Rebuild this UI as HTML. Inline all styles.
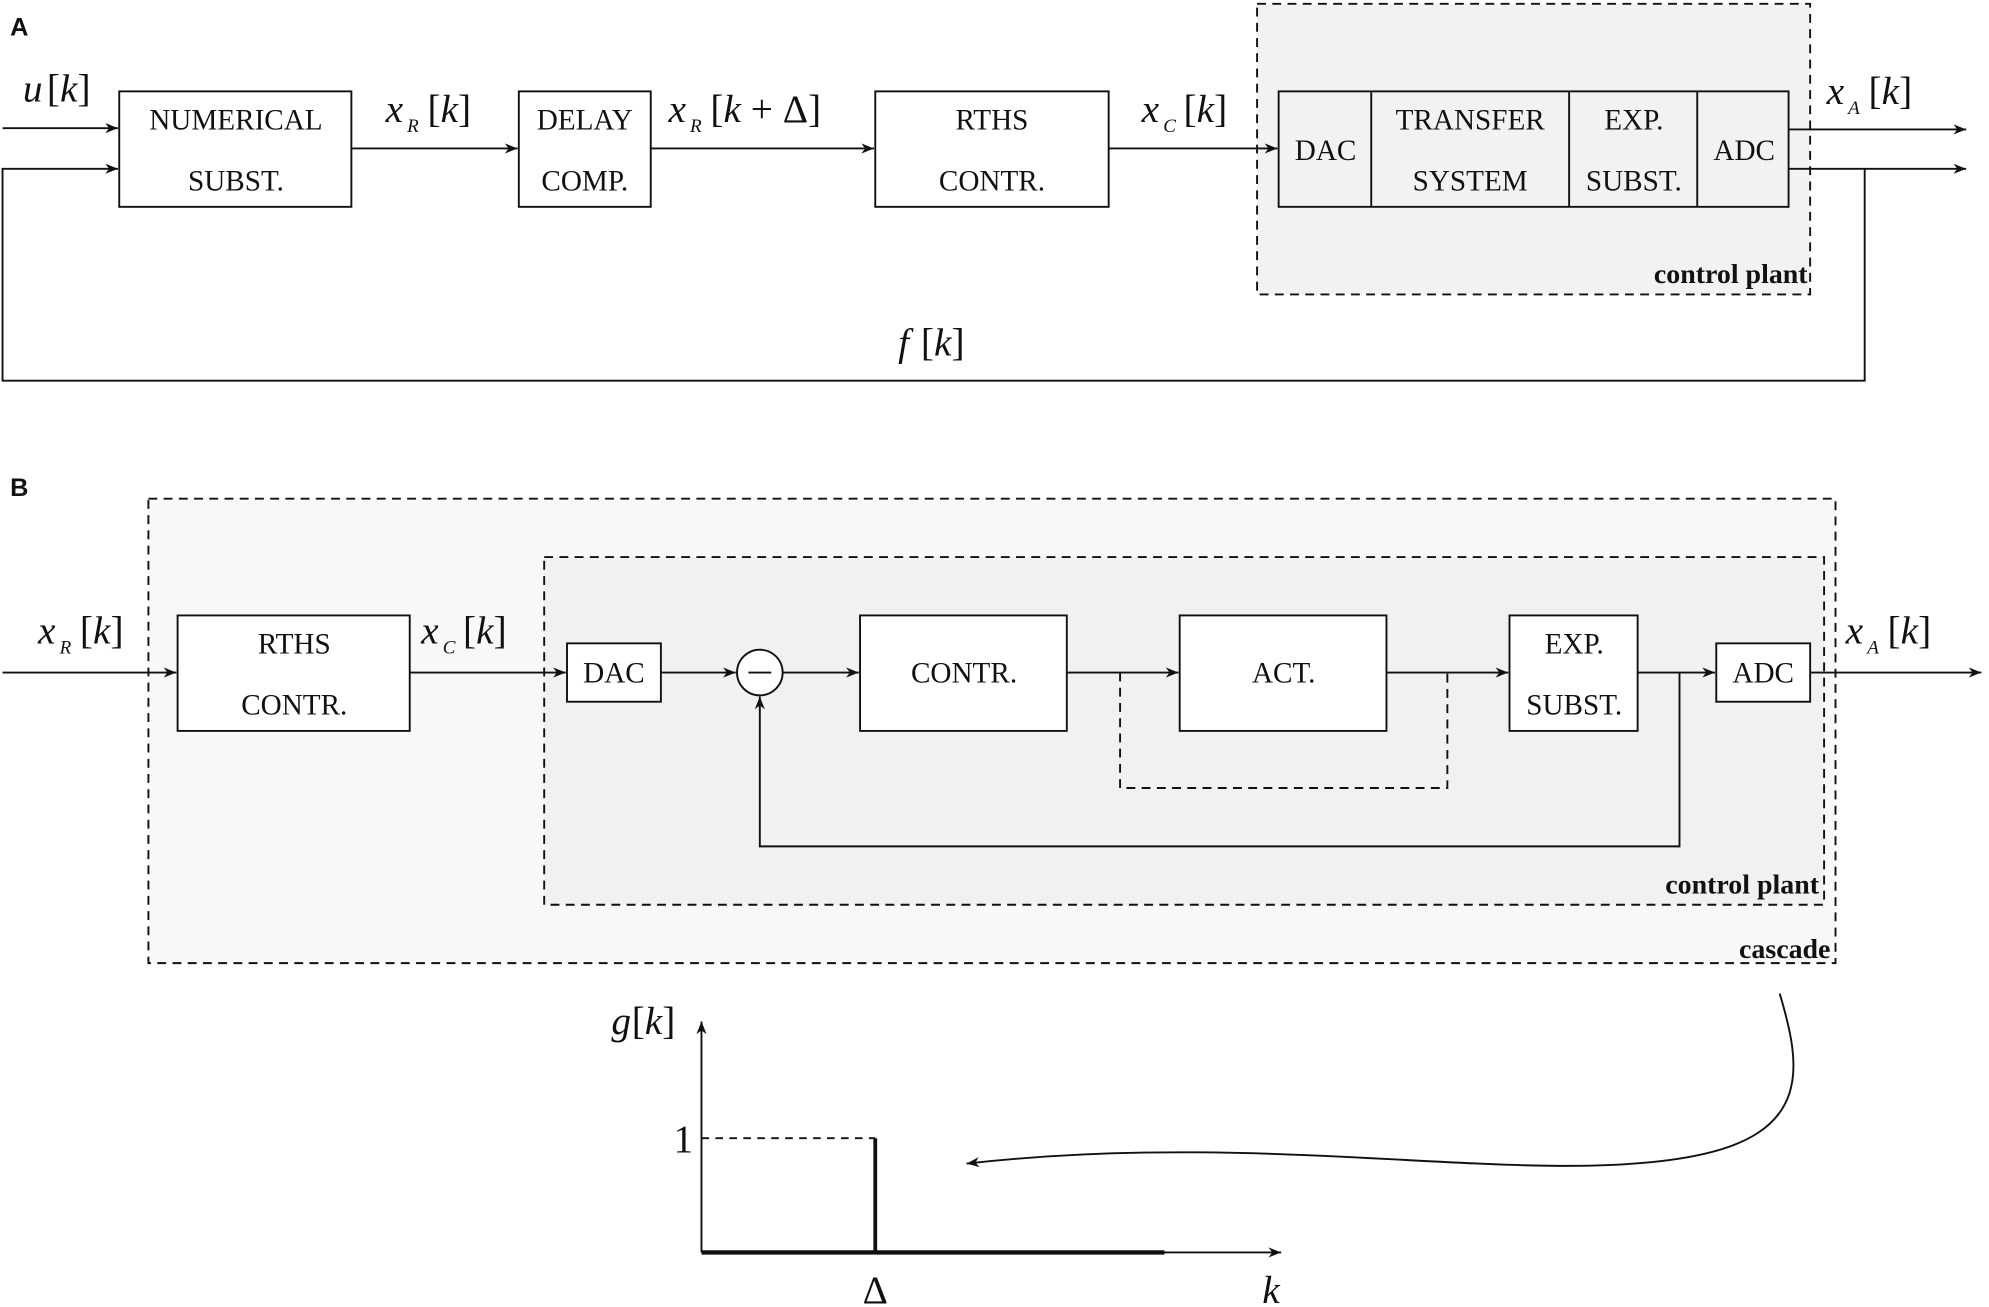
<!DOCTYPE html>
<html><head><meta charset="utf-8"><style>
html,body{margin:0;padding:0;background:#fff;}
svg{display:block;}
.b{font-family:"Liberation Serif",serif;font-size:23px;fill:#111;}
.m{font-family:"Liberation Serif",serif;font-style:italic;font-size:31px;fill:#111;}
.r{font-family:"Liberation Serif",serif;font-size:31px;fill:#111;}
.s{font-family:"Liberation Serif",serif;font-style:italic;font-size:15px;fill:#111;}
.lbl{font-family:"Liberation Serif",serif;font-weight:bold;font-size:22px;fill:#111;}
.pl{font-family:"Liberation Sans",sans-serif;font-weight:bold;font-size:20px;fill:#111;}
</style></head><body>
<svg width="1989" height="1307" viewBox="0 0 1568 1030" preserveAspectRatio="none" xmlns="http://www.w3.org/2000/svg">
<defs>
<marker id="a" markerWidth="10" markerHeight="8" refX="10" refY="4" orient="auto" markerUnits="userSpaceOnUse"><path d="M0,0 L10,4 L0,8 L3,4 Z" fill="#111"/></marker>
</defs>
<g stroke="#111" stroke-width="1.5" fill="none">
<!-- Panel A -->
<rect x="991" y="3" width="436" height="229" fill="#f2f2f2" stroke-dasharray="7,5"/>
<line x1="2" y1="101" x2="93" y2="101" marker-end="url(#a)"/>
<polyline points="1470,133 1470,300 2,300 2,133 93,133" marker-end="url(#a)"/>
<rect x="94" y="72" width="183" height="91" fill="#fff"/>
<line x1="277" y1="117" x2="408" y2="117" marker-end="url(#a)"/>
<rect x="409" y="72" width="104" height="91" fill="#fff"/>
<line x1="513" y1="117" x2="689" y2="117" marker-end="url(#a)"/>
<rect x="690" y="72" width="184" height="91" fill="#fff"/>
<line x1="874" y1="117" x2="1007" y2="117" marker-end="url(#a)"/>
<rect x="1008" y="72" width="402" height="91" fill="#f2f2f2"/>
<line x1="1081" y1="72" x2="1081" y2="163"/>
<line x1="1237" y1="72" x2="1237" y2="163"/>
<line x1="1338" y1="72" x2="1338" y2="163"/>
<line x1="1410" y1="102" x2="1550" y2="102" marker-end="url(#a)"/>
<line x1="1410" y1="133" x2="1550" y2="133" marker-end="url(#a)"/>
<!-- Panel B -->
<rect x="117" y="393" width="1330" height="366" fill="#f8f8f8" stroke-dasharray="7,5"/>
<rect x="429" y="439" width="1009" height="274" fill="#f1f1f1" stroke-dasharray="7,5"/>
<line x1="2" y1="530" x2="139" y2="530" marker-end="url(#a)"/>
<rect x="140" y="485" width="183" height="91" fill="#fff"/>
<line x1="323" y1="530" x2="446" y2="530" marker-end="url(#a)"/>
<rect x="447" y="507" width="74" height="46" fill="#fff"/>
<line x1="521" y1="530" x2="580" y2="530" marker-end="url(#a)"/>
<circle cx="599" cy="530" r="18" fill="#fff"/>
<line x1="590" y1="530" x2="608" y2="530"/>
<line x1="617" y1="530" x2="677" y2="530" marker-end="url(#a)"/>
<rect x="678" y="485" width="163" height="91" fill="#fff"/>
<line x1="841" y1="530" x2="929" y2="530" marker-end="url(#a)"/>
<rect x="930" y="485" width="163" height="91" fill="#fff"/>
<line x1="1093" y1="530" x2="1189" y2="530" marker-end="url(#a)"/>
<rect x="1190" y="485" width="101" height="91" fill="#fff"/>
<line x1="1291" y1="530" x2="1352" y2="530" marker-end="url(#a)"/>
<rect x="1353" y="507" width="74" height="46" fill="#fff"/>
<line x1="1427" y1="530" x2="1562" y2="530" marker-end="url(#a)"/>
<polyline points="883,530 883,621 1141,621 1141,530" stroke-dasharray="7,5"/>
<polyline points="1324,530 1324,667 599,667 599,549" marker-end="url(#a)"/>
<!-- plot -->
<line x1="553" y1="987" x2="553" y2="805" marker-end="url(#a)"/>
<line x1="553" y1="987" x2="1010" y2="987" marker-end="url(#a)"/>
<line x1="553" y1="987" x2="918" y2="987" stroke-width="3.5"/>
<line x1="690" y1="897" x2="690" y2="987" stroke-width="3"/>
<line x1="553" y1="897" x2="690" y2="897" stroke-dasharray="6,5"/>
<path d="M1403,783 C1420,840 1430,895 1330,912 C1200,935 1000,890 762,917" marker-end="url(#a)"/>
</g>
<!-- text -->
<text x="8" y="28" class="pl">A</text>
<text x="8" y="391" class="pl">B</text>
<g class="b" text-anchor="middle">
<text x="186" y="102">NUMERICAL</text><text x="186" y="150">SUBST.</text>
<text x="461" y="102">DELAY</text><text x="461" y="150">COMP.</text>
<text x="782" y="102">RTHS</text><text x="782" y="150">CONTR.</text>
<text x="1045" y="126">DAC</text>
<text x="1159" y="102">TRANSFER</text><text x="1159" y="150">SYSTEM</text>
<text x="1288" y="102">EXP.</text><text x="1288" y="150">SUBST.</text>
<text x="1375" y="126">ADC</text>
<text x="232" y="515">RTHS</text><text x="232" y="563">CONTR.</text>
<text x="484" y="538">DAC</text>
<text x="760" y="538">CONTR.</text>
<text x="1012" y="538">ACT.</text>
<text x="1241" y="515">EXP.</text><text x="1241" y="563">SUBST.</text>
<text x="1390" y="538">ADC</text>
</g>
<text x="1425" y="223" class="lbl" text-anchor="end">control plant</text>
<text x="1434" y="704" class="lbl" text-anchor="end">control plant</text>
<text x="1443" y="755" class="lbl" text-anchor="end">cascade</text>
<!-- math labels -->
<text x="18" y="80" class="m">u</text><text x="37" y="80" class="r">[<tspan class="m">k</tspan>]</text>
<text x="304" y="96" class="m">x</text><text x="321" y="104" class="s">R</text><text x="337" y="96" class="r">[<tspan class="m">k</tspan>]</text>
<text x="527" y="96" class="m">x</text><text x="544" y="104" class="s">R</text><text x="560" y="96" class="r">[<tspan class="m">k</tspan> + Δ]</text>
<text x="900" y="96" class="m">x</text><text x="917" y="104" class="s">C</text><text x="933" y="96" class="r">[<tspan class="m">k</tspan>]</text>
<text x="1440" y="82" class="m">x</text><text x="1457" y="90" class="s">A</text><text x="1473" y="82" class="r">[<tspan class="m">k</tspan>]</text>
<text x="708" y="280" class="m">f</text><text x="726" y="280" class="r">[<tspan class="m">k</tspan>]</text>
<text x="30" y="507" class="m">x</text><text x="47" y="515" class="s">R</text><text x="63" y="507" class="r">[<tspan class="m">k</tspan>]</text>
<text x="332" y="507" class="m">x</text><text x="349" y="515" class="s">C</text><text x="365" y="507" class="r">[<tspan class="m">k</tspan>]</text>
<text x="1455" y="507" class="m">x</text><text x="1472" y="515" class="s">A</text><text x="1488" y="507" class="r">[<tspan class="m">k</tspan>]</text>
<text x="482" y="815" class="m">g</text><text x="498" y="815" class="r">[<tspan class="m">k</tspan>]</text>
<text x="531" y="908" class="r">1</text>
<text x="690" y="1027" class="r" text-anchor="middle">Δ</text>
<text x="1002" y="1027" class="m" text-anchor="middle">k</text>
</svg>
</body></html>
